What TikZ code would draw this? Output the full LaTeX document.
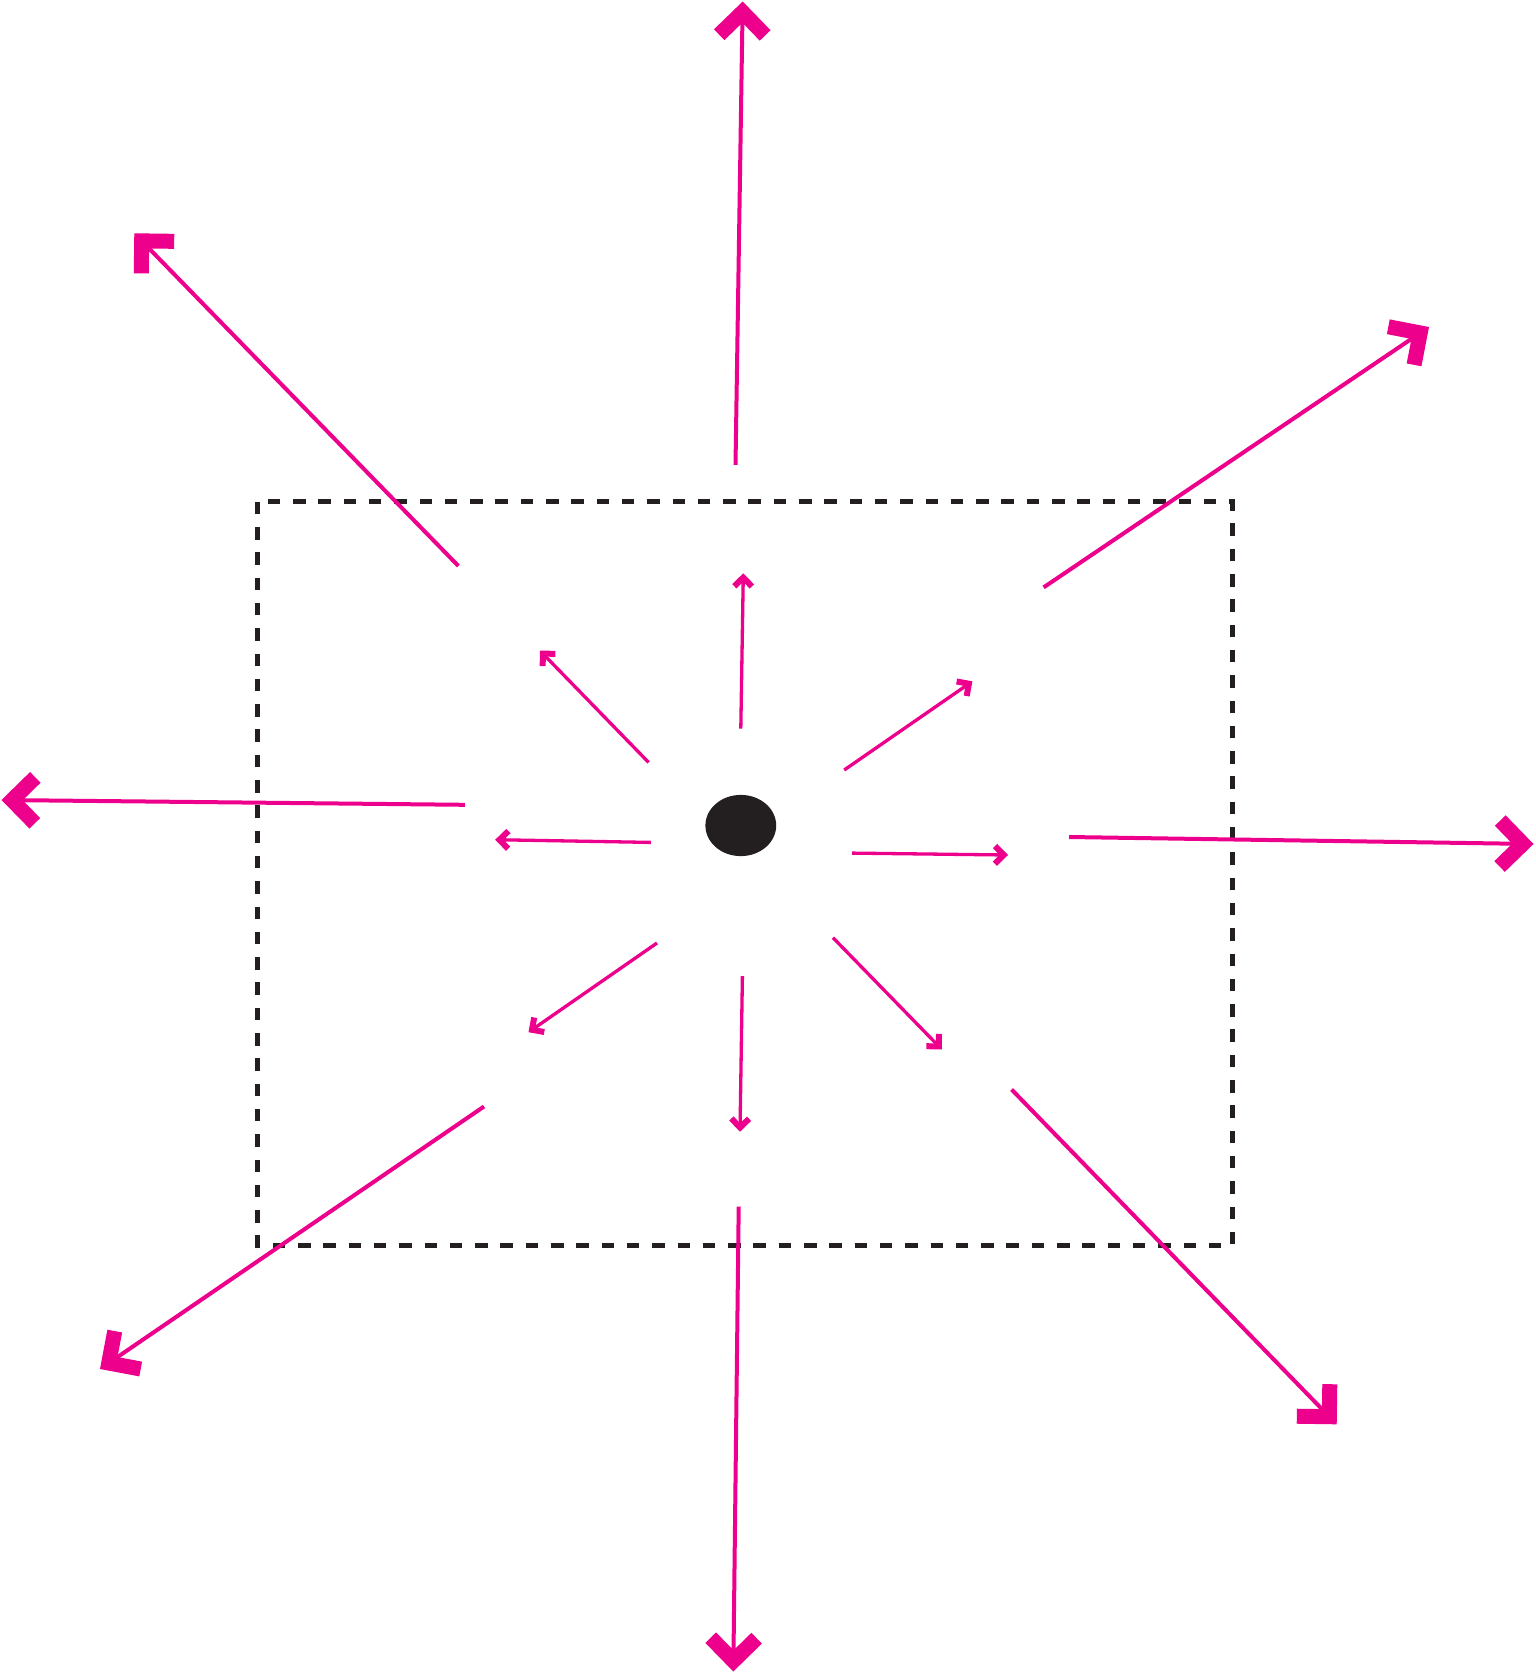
\documentclass[tikz,border=0pt]{standalone}
\usetikzlibrary{arrows.meta,shapes.geometric}
\definecolor{mag}{HTML}{EC008C}
\definecolor{ink}{HTML}{231F20}
\newdimen\chevA
\newdimen\chevT
\pgfdeclarearrow{
  name = Chev,
  parameters = {\the\pgfarrowlength,\the\pgfarrowwidth},
  setup code = {
    \pgfarrowssettipend{0pt}
    \pgfarrowssetlineend{-\pgfarrowwidth}
    \chevA=\pgfarrowlength
    \advance\chevA by \pgfarrowwidth
    \chevA=-0.70711\chevA
    \pgfarrowssetbackend{\chevA}
    \pgfarrowssavethe\pgfarrowlength
    \pgfarrowssavethe\pgfarrowwidth
  },
  drawing code = {
    \chevA=0.70711\pgfarrowlength
    \chevT=0.70711\pgfarrowwidth
    \pgfpathmoveto{\pgfpointorigin}
    \pgfpathlineto{\pgfqpoint{-\chevA}{\chevA}}
    \pgfpathlineto{\pgfpoint{-\chevA-\chevT}{\chevA-\chevT}}
    \pgfpathlineto{\pgfqpoint{-1.41421\pgfarrowwidth}{0pt}}
    \pgfpathlineto{\pgfpoint{-\chevA-\chevT}{-\chevA+\chevT}}
    \pgfpathlineto{\pgfqpoint{-\chevA}{-\chevA}}
    \pgfpathclose
    \pgfusepathqfill
  },
  defaults = {length=40pt, width=15pt}
}
\tikzset{
  bigarrow/.style={color=mag, line width=4pt, -{Chev[length=40pt,width=15pt]}},
  smallarrow/.style={color=mag, line width=3.3pt, -{Chev[length=15.5pt,width=6pt]}},
  dashbox/.style={draw=ink, line width=4.5pt, dash pattern=on 12.5pt off 12.8pt},
  dotstyle/.style={ellipse, fill=ink, draw=none, inner sep=0pt, minimum width=70.8pt, minimum height=61.2pt}
}
\begin{document}
\begin{tikzpicture}[x=1pt,y=-1pt]
\useasboundingbox (0,0) rectangle (1535,1673);
% dashed frame
\coordinate (bx1) at (257.7,501.7);
\coordinate (bx2) at (1232.7,1245.7);
\draw[dashbox] (bx1) rectangle (bx2);
% central dot
\node[dotstyle] (dot) at (740.8,825.5) {};
% large arrows
\coordinate (sU) at (735.5,464.8);   \coordinate (tU) at (742.7,1.5);
\coordinate (sUL) at (458.4,566);    \coordinate (tUL) at (134.3,233.3);
\coordinate (sUR) at (1043.6,587.4); \coordinate (tUR) at (1429,327);
\coordinate (sL) at (464.8,804.8);   \coordinate (tL) at (1.5,800);
\coordinate (sR) at (1069,837);      \coordinate (tR) at (1533.5,844);
\coordinate (sLL) at (484,1106.5);   \coordinate (tLL) at (100,1369);
\coordinate (sD) at (738.7,1206.7);  \coordinate (tD) at (733.3,1671.5);
\coordinate (sLR) at (1011.6,1089.5);\coordinate (tLR) at (1336.7,1424.3);
\foreach \n in {U,UL,UR,L,R,LL,D,LR}{\draw[bigarrow] (s\n) -- (t\n);}
% small arrows
\coordinate (su) at (740.8,728.7);   \coordinate (tu) at (743.3,573.3);
\coordinate (sul) at (648.6,762.4);  \coordinate (tul) at (539.9,650.6);
\coordinate (sur) at (844.2,770);    \coordinate (tur) at (972.4,681.3);
\coordinate (sl) at (650.9,842.4);   \coordinate (tl) at (495.2,839.7);
\coordinate (sr) at (852.2,853.1);   \coordinate (tr) at (1008,855);
\coordinate (sll) at (657,943);      \coordinate (tll) at (528.5,1032.2);
\coordinate (sd) at (742.4,976);     \coordinate (td) at (740,1131.7);
\coordinate (slr) at (833,937.7);    \coordinate (tlr) at (941.8,1049.4);
\foreach \n in {u,ul,ur,l,r,ll,d,lr}{\draw[smallarrow] (s\n) -- (t\n);}
\end{tikzpicture}
\end{document}
